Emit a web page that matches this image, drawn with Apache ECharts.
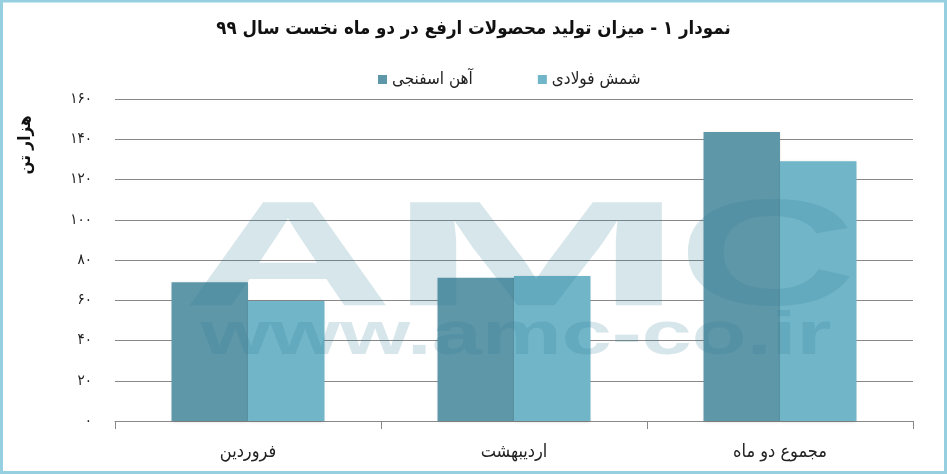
<!DOCTYPE html>
<html>
<head>
<meta charset="utf-8">
<script src="https://cdn.jsdelivr.net/npm/echarts@6/dist/echarts.min.js"></script>
<style>
html,body{margin:0;padding:0;background:#fff;}
#chart{width:947px;height:474px;}
</style>
</head>
<body>
<div id="chart"></div>
<script>
const titleText = 'نمودار ۱ - میزان تولید محصولات ارفع در دو ماه نخست سال ۹۹';
const unitLabel = 'هزار تن';
const categories = ['فروردین', 'اردیبهشت', 'مجموع دو ماه'];
const seriesNames = ['آهن اسفنجی', 'شمش فولادی'];
const spongeIron = [68.9, 71.2, 143.6];
const steelBillet = [59.6, 72.0, 129.1];
const yTickLabels = ['۰', '۲۰', '۴۰', '۶۰', '۸۰', '۱۰۰', '۱۲۰', '۱۴۰', '۱۶۰'];

const FONT = "'DejaVu Sans Condensed','DejaVu Sans',sans-serif";
const wmFill = 'rgba(40,120,150,0.19)';

const chart = echarts.init(document.getElementById('chart'), null, {renderer: 'canvas'});
chart.setOption({
  animation: false,
  backgroundColor: '#ffffff',
  title: {
    text: titleText,
    left: 'center',
    top: 15,
    textStyle: {fontFamily: FONT, fontSize: 18.5, fontWeight: 'bold', color: '#111'}
  },
  legend: {
    data: seriesNames,
    left: 373,
    top: 66,
    itemWidth: 9,
    itemHeight: 9,
    itemGap: 65,
    icon: 'rect',
    textStyle: {fontFamily: FONT, fontSize: 17, color: '#222'}
  },
  grid: {left: 115, right: 34, top: 99, bottom: 53, containLabel: false},
  xAxis: {
    type: 'category',
    data: categories,
    axisLine: {lineStyle: {color: '#888', width: 1}},
    axisTick: {show: true, length: 8, alignWithLabel: false, lineStyle: {color: '#888'}},
    axisLabel: {fontFamily: FONT, fontSize: 18, color: '#222', margin: 22}
  },
  yAxis: {
    type: 'value',
    min: 0,
    max: 160,
    interval: 20,
    axisLine: {show: false},
    axisTick: {show: false},
    splitLine: {lineStyle: {color: '#888', width: 1}},
    axisLabel: {
      fontFamily: FONT, fontSize: 15, color: '#222', margin: 23,
      formatter: v => yTickLabels[Math.round(v / 20)]
    }
  },
  series: [
    {
      name: seriesNames[0], type: 'bar', data: spongeIron,
      barGap: '0%', barCategoryGap: '42.5%',
      itemStyle: {color: '#5e97a8', shadowBlur: 3, shadowColor: 'rgba(0,0,0,0.15)', shadowOffsetY: 1}
    },
    {
      name: seriesNames[1], type: 'bar', data: steelBillet,
      barGap: '0%', barCategoryGap: '42.5%',
      itemStyle: {color: '#71b5c8', shadowBlur: 3, shadowColor: 'rgba(0,0,0,0.15)', shadowOffsetY: 1}
    }
  ],
  graphic: [
    {
      type: 'text', x: 26, y: 145, rotation: Math.PI / 2,
      style: {text: unitLabel, fontFamily: FONT, fontSize: 17, fontWeight: 'bold', fill: '#111', align: 'center', verticalAlign: 'middle'}
    },
    {
      type: 'text', x: 288, y: 264, scaleX: 1.95, z: 50,
      style: {text: 'A', font: "bold 150px 'Liberation Sans'", fill: wmFill, align: 'center', verticalAlign: 'middle'}
    },
    {
      type: 'text', x: 536, y: 264, scaleX: 2.4, z: 50,
      style: {text: 'M', font: "bold 150px 'Liberation Sans'", fill: wmFill, align: 'center', verticalAlign: 'middle'}
    },
    {
      type: 'text', x: 767, y: 264, scaleX: 1.65, z: 50,
      style: {text: 'C', font: "bold 150px 'Liberation Sans'", fill: wmFill, align: 'center', verticalAlign: 'middle'}
    },
    {
      type: 'text', x: 516, y: 337, scaleX: 1.45, z: 50,
      style: {text: 'www.amc-co.ir', font: "bold 62px 'Liberation Sans'", fill: wmFill, align: 'center', verticalAlign: 'middle'}
    },
    {
      type: 'rect', z: 60,
      shape: {x: 1.5, y: 1, width: 944, height: 471.5},
      style: {fill: 'none', stroke: '#96cfe0', lineWidth: 3}
    }
  ]
});
</script>
</body>
</html>
